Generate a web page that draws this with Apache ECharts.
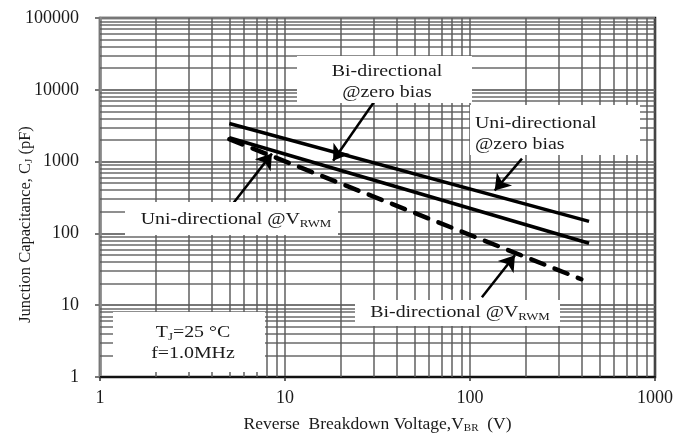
<!DOCTYPE html>
<html>
<head>
<meta charset="utf-8">
<script src="https://cdn.jsdelivr.net/npm/echarts@6/dist/echarts.min.js"></script>
<style>html,body{margin:0;padding:0;background:#fff}#c{width:688px;height:434px}</style>
</head>
<body>
<div id="c"></div>
<script>
// ---- data ----
const xTickLabels = ['1', '10', '100', '1000'];
const yTickLabels = ['1', '10', '100', '1000', '10000', '100000'];
const uniZeroV = [5, 440];
const uniZeroC = [3400, 147];
const biZeroV = [5, 440];
const biZeroC = [2150, 73];
const vrwmV = [5, 400];
const vrwmC = [2050, 23];
// minor grid positions (log decades)
const xMinor = [2,3,4,5,6,7,8,9,20,30,40,50,60,70,80,90,200,300,400,500,600,700,800,900];
const yMinor = [2,3,4,5,6,7,8,9,20,30,40,50,60,70,80,90,200,300,400,500,600,700,800,900,
  2000,3000,4000,5000,6000,7000,8000,9000,20000,30000,40000,50000,60000,70000,80000,90000];
// arrows: [fromV, fromC, toV, toC]
const arrowBiZero = [30.6, 7030, 18.2, 1030];
const arrowUniZero = [191, 1100, 136, 396];
const arrowUniVrwm = [5.24, 261, 8.5, 1292];
const arrowBiVrwm = [116, 12.9, 175, 49.5];

const FONT = 'Liberation Serif';
const INK = '#1a1a1a';
const pairs = (xs, ys) => xs.map((x, i) => [x, ys[i]]);

const chart = echarts.init(document.getElementById('c'), null, {renderer: 'canvas'});

const gridLineStyle = {color: '#5a5a5a', width: 1.6, type: 'solid', opacity: 0.9};
const minorMarks = xMinor.map(v => ({xAxis: v})).concat(yMinor.map(v => ({yAxis: v})));

function arrow(a) {
  return [{coord: [a[0], a[1]]}, {coord: [a[2], a[3]]}];
}

const option = {
  animation: false,
  backgroundColor: '#fff',
  grid: {left: 100, right: 33, top: 18, bottom: 57, containLabel: false, outerBoundsMode: 'none',
    show: true, borderColor: '#111', borderWidth: 2.5, backgroundColor: 'transparent'},
  xAxis: {
    type: 'log', logBase: 10, min: 1, max: 1000,
    name: '{t|Reverse  Breakdown Voltage,V}{s|BR}{t|  (V)}',
    nameLocation: 'middle', nameGap: 38, nameMoveOverlap: false,
    nameTextStyle: {rich: {t: {fontFamily: FONT, fontSize: 17.5, color: INK}, s: {fontFamily: FONT, fontSize: 11, color: INK, padding: [8, 0, 0, 0]}}},
    axisLine: {show: true, lineStyle: {color: '#111', width: 2}},
    axisTick: {show: true, length: 4, lineStyle: {color: '#333', width: 1.5}},
    axisLabel: {fontFamily: FONT, fontSize: 18, color: INK, margin: 12,
      formatter: v => xTickLabels.find(t => Number(t) === Math.round(v)) || ''},
    splitLine: {show: true, lineStyle: gridLineStyle}
  },
  yAxis: {
    type: 'log', logBase: 10, min: 1, max: 100000,
    name: '{t|Junction Capacitance, C}{s|J}{t| (pF)}',
    nameLocation: 'middle', nameGap: 65, nameRotate: 90, nameMoveOverlap: false,
    nameTextStyle: {padding: [0, 54, 0, 0], rich: {t: {fontFamily: FONT, fontSize: 16.5, color: INK}, s: {fontFamily: FONT, fontSize: 11, color: INK, padding: [8, 0, 0, 0]}}},
    axisLine: {show: true, lineStyle: {color: '#888', width: 2.5}},
    axisTick: {show: true, length: 5, lineStyle: {color: '#777', width: 2}},
    axisLabel: {fontFamily: FONT, fontSize: 18, color: INK, margin: 21,
      formatter: v => yTickLabels.find(t => Number(t) === Math.round(v)) || ''},
    splitLine: {show: true, lineStyle: {color: '#777', width: 2}}
  },
  series: [
    {
      name: 'grid', type: 'line', data: [], z: 1, silent: true,
      markLine: {silent: true, symbol: ['none', 'none'], label: {show: false}, animation: false,
        lineStyle: gridLineStyle, data: minorMarks}
    },
    {name: 'Uni-directional @zero bias', type: 'line', data: pairs(uniZeroV, uniZeroC), symbol: 'none', z: 5,
      lineStyle: {color: '#000', width: 3.5}},
    {name: 'Bi-directional @zero bias', type: 'line', data: pairs(biZeroV, biZeroC), symbol: 'none', z: 5,
      lineStyle: {color: '#000', width: 3.5}},
    {name: '@VRWM', type: 'line', data: pairs(vrwmV, vrwmC), symbol: 'none', z: 5,
      lineStyle: {color: '#000', width: 4.5, type: [14, 11], cap: 'round'}},
    {
      name: 'arrows', type: 'line', data: [], z: 8, silent: true,
      markLine: {silent: true, symbol: ['none', 'arrow'], symbolSize: 15, label: {show: false}, animation: false,
        itemStyle: {color: '#000'},
        lineStyle: {color: '#000', width: 2.5, type: 'solid'},
        data: [arrow(arrowBiZero), arrow(arrowUniZero), arrow(arrowUniVrwm), arrow(arrowBiVrwm)]}
    }
  ]
};
chart.setOption(option);

// annotation boxes (white rectangles with text) drawn over the grid
const SX = 1.17;
function box(x, y, w, h) {
  return {type: 'rect', shape: {x: x, y: y, width: w, height: h}, style: {fill: '#fff'}, z: 6, silent: true};
}
function txt(x, y, text, align, rich) {
  return {type: 'text', x: x, y: y, scaleX: SX, z: 7, silent: true,
    style: {x: 0, y: 0, text: text, fontFamily: FONT, fontSize: 17, fill: INK, align: align || 'center', verticalAlign: 'middle', rich: rich}};
}
const sub = {t: {fontFamily: FONT, fontSize: 17, fill: INK}, s: {fontFamily: FONT, fontSize: 11, fill: INK, padding: [9, 0, 0, 0]}};
chart.setOption({
  graphic: [
    box(297, 56, 175, 47),
    txt(387, 72, 'Bi-directional'),
    txt(387, 93, '@zero bias'),
    box(470, 105, 170, 50),
    txt(475, 124, 'Uni-directional', 'left'),
    txt(475, 145, '@zero bias', 'left'),
    box(125, 202, 213, 33),
    txt(236, 220, '{t|Uni-directional @V}{s|RWM}', 'center', sub),
    box(355, 300, 205, 26),
    txt(460, 313, '{t|Bi-directional @V}{s|RWM}', 'center', sub),
    box(113, 312, 152, 60),
    txt(193, 333, '{t|T}{s|J}{t|=25 °C}', 'center', sub),
    txt(193, 354, 'f=1.0MHz')
  ]
});
</script>
</body>
</html>
